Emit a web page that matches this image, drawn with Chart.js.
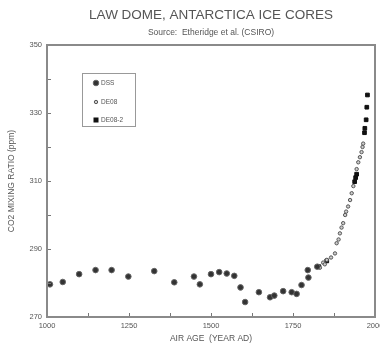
<!DOCTYPE html>
<html>
<head>
<meta charset="utf-8">
<script src="https://cdn.jsdelivr.net/npm/chart.js@4"></script>
<style>
  html, body { margin: 0; padding: 0; background: #fff; }
</style>
</head>
<body>
<canvas id="lawDome" width="380" height="347"></canvas>
<script>
// DSS core
const dssYears = [1009, 1048, 1098, 1148, 1197, 1248, 1327, 1388, 1448, 1466, 1500, 1525, 1548, 1571, 1590, 1604, 1646, 1680, 1693, 1720, 1746, 1761, 1776, 1797, 1795, 1824];
const dssPpm = [279.6, 280.3, 282.6, 283.8, 283.8, 281.9, 283.5, 280.2, 281.9, 279.6, 282.6, 283.2, 282.8, 282.1, 278.7, 274.4, 277.3, 275.8, 276.3, 277.6, 277.3, 276.8, 279.4, 281.6, 283.8, 284.8];

// DE08 core
const de08Years = [1832, 1842, 1847, 1853, 1866, 1878, 1883, 1889, 1893, 1898, 1903, 1909, 1912, 1918, 1924, 1929, 1934, 1944, 1949, 1954, 1959, 1962, 1964];
const de08Ppm = [284.5, 286.0, 285.5, 286.8, 287.5, 288.7, 291.7, 292.8, 294.6, 296.3, 297.6, 300.0, 301.0, 302.5, 304.4, 306.4, 308.5, 313.5, 315.5, 317.0, 318.5, 320.0, 321.0];

// DE08-2 core
const de082Years = [1829, 1853, 1938, 1941, 1944, 1968, 1969, 1973, 1975, 1977];
const de082Ppm = [284.8, 286.5, 309.8, 311.0, 312.0, 324.2, 325.5, 328.0, 331.7, 335.3];

const seriesNames = ['DSS', 'DE08', 'DE08-2'];

const toPoints = (xs, ys) => xs.map((x, i) => ({ x: x, y: ys[i] }));

const textColor = '#555';
const fontFamily = '"Liberation Sans", Arial, sans-serif';

// title, frame, inward ticks and the boxed legend
const decorations = {
    id: 'decorations',
    afterDatasetsDraw(chart) {
        const ctx = chart.ctx;
        const area = chart.chartArea;
        const cx = (area.left + area.right) / 2;

        ctx.save();
        ctx.fillStyle = textColor;
        ctx.textAlign = 'center';
        ctx.textBaseline = 'middle';
        ctx.font = '13.5px ' + fontFamily;
        ctx.fillText('LAW DOME, ANTARCTICA ICE CORES', cx, 15);
        ctx.font = '8.5px ' + fontFamily;
        ctx.fillText('Source:  Etheridge et al. (CSIRO)', cx, 33);

        // ticks pointing into the plot
        ctx.strokeStyle = '#777';
        ctx.lineWidth = 1;
        const xs = chart.scales.x, ys = chart.scales.y;
        xs.ticks.forEach(t => {
            const px = Math.round(xs.getPixelForValue(t.value)) + 0.5;
            ctx.beginPath();
            ctx.moveTo(px, area.bottom);
            ctx.lineTo(px, area.bottom - 4);
            ctx.stroke();
        });
        ys.ticks.forEach(t => {
            const py = Math.round(ys.getPixelForValue(t.value)) + 0.5;
            ctx.beginPath();
            ctx.moveTo(area.left, py);
            ctx.lineTo(area.left + 4, py);
            ctx.stroke();
        });

        // frame
        ctx.strokeStyle = '#8a8a8a';
        ctx.lineWidth = 2;
        ctx.strokeRect(area.left, area.top, area.right - area.left, area.bottom - area.top);

        // legend box
        const lx = area.left + 35, ly = area.top + 28;
        ctx.lineWidth = 1;
        ctx.strokeStyle = '#999';
        ctx.strokeRect(lx + 0.5, ly + 0.5, 53, 53);
        ctx.font = '6.5px ' + fontFamily;
        ctx.textAlign = 'left';
        const rows = [10, 29, 47];
        chart.data.datasets.forEach((ds, i) => {
            const my = ly + rows[i];
            const mx = lx + 14;
            ctx.beginPath();
            if (ds.pointStyle === 'rect') {
                ctx.fillStyle = ds.backgroundColor;
                ctx.fillRect(mx - 2.5, my - 2.5, 5, 5);
            } else {
                ctx.arc(mx, my, ds.pointRadius, 0, Math.PI * 2);
                ctx.fillStyle = ds.backgroundColor;
                ctx.fill();
                ctx.strokeStyle = ds.borderColor;
                ctx.lineWidth = ds.borderWidth;
                ctx.stroke();
            }
            ctx.fillStyle = textColor;
            ctx.fillText(ds.label, mx + 5, my);
        });
        ctx.restore();
    }
};

new Chart(document.getElementById('lawDome'), {
    type: 'scatter',
    plugins: [decorations],
    data: {
        datasets: [
            {
                label: seriesNames[0],
                data: toPoints(dssYears, dssPpm),
                pointStyle: 'circle',
                pointRadius: 2.8,
                backgroundColor: '#333',
                borderColor: '#666',
                borderWidth: 1,
            },
            {
                label: seriesNames[1],
                data: toPoints(de08Years, de08Ppm),
                pointStyle: 'circle',
                pointRadius: 1.7,
                backgroundColor: '#ccc',
                borderColor: '#555',
                borderWidth: 1,
            },
            {
                label: seriesNames[2],
                data: toPoints(de082Years, de082Ppm),
                pointStyle: 'rect',
                pointRadius: 2.6,
                backgroundColor: '#111',
                borderColor: '#111',
                borderWidth: 1,
            }
        ]
    },
    options: {
        responsive: false,
        animation: false,
        layout: {
            padding: { top: 45, right: 5, left: 0, bottom: 0 }
        },
        plugins: {
            legend: { display: false },
            tooltip: { enabled: false }
        },
        scales: {
            x: {
                type: 'linear',
                min: 1000,
                max: 2000,
                afterFit: s => { s.height = 30; s.paddingLeft = 0; s.paddingRight = 0; },
                grid: { display: false, drawTicks: false },
                border: { display: false },
                ticks: {
                    stepSize: 125,
                    autoSkip: false,
                    maxRotation: 0,
                    padding: 4,
                    color: textColor,
                    font: { size: 7.5, family: fontFamily },
                    callback: v => (v % 250 === 0 ? v : '')
                },
                title: {
                    display: true,
                    text: 'AIR AGE  (YEAR AD)',
                    color: textColor,
                    font: { size: 8.5, family: fontFamily },
                    padding: { top: 0, bottom: 3 }
                }
            },
            y: {
                min: 270,
                max: 350,
                afterFit: s => { s.width = 47; },
                grid: { display: false, drawTicks: false },
                border: { display: false },
                ticks: {
                    stepSize: 10,
                    autoSkip: false,
                    padding: 5,
                    color: textColor,
                    font: { size: 7.5, family: fontFamily },
                    callback: v => ((v - 270) % 20 === 0 ? v : '')
                },
                title: {
                    display: true,
                    text: 'CO2 MIXING RATIO (ppm)',
                    color: textColor,
                    font: { size: 8.5, family: fontFamily },
                    padding: { top: 7, bottom: 0 }
                }
            }
        }
    }
});
</script>
</body>
</html>
